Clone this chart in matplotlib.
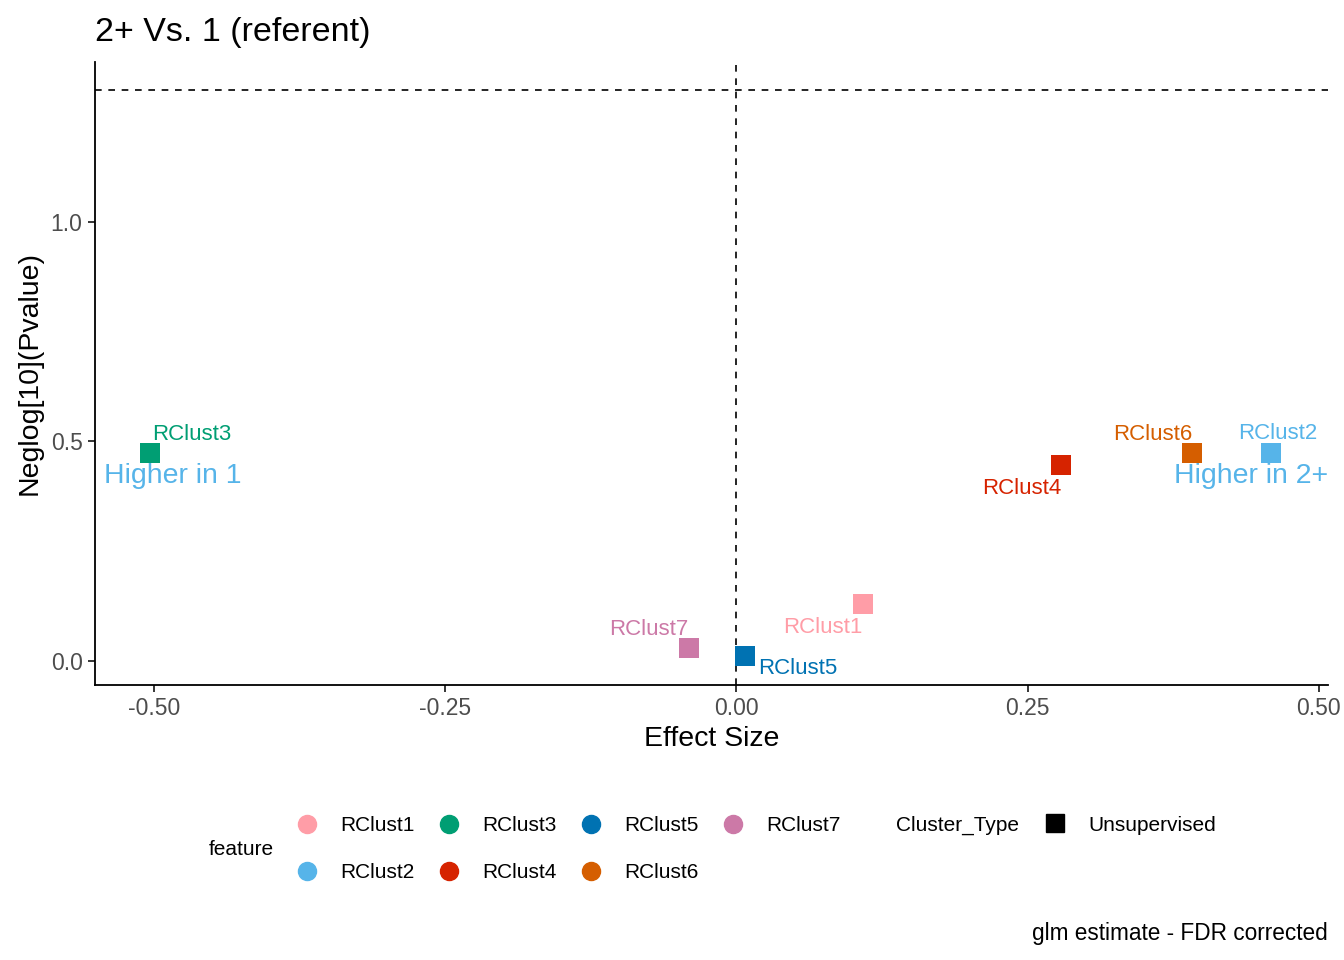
import matplotlib.pyplot as plt
from matplotlib.lines import Line2D

plt.rcParams['font.family'] = ['Liberation Sans', 'DejaVu Sans']

# data
features = ['RClust1', 'RClust2', 'RClust3', 'RClust4', 'RClust5', 'RClust6', 'RClust7']
effect = [0.109, 0.459, -0.503, 0.279, 0.007, 0.391, -0.041]
neglogp = [0.130, 0.474, 0.474, 0.447, 0.011, 0.474, 0.030]
colors = ['#FF9DA7', '#56B4E9', '#009E73', '#D62300', '#0072B2', '#D55E00', '#CC79A7']

# label offsets in points (dx, dy, ha)
offs = {
    'RClust1': (-1, -17, 'right'),
    'RClust2': (5, 14, 'center'),
    'RClust3': (1, 13, 'left'),
    'RClust4': (0, -17, 'right'),
    'RClust5': (10, -9, 'left'),
    'RClust6': (0, 13, 'right'),
    'RClust7': (0, 13, 'right'),
}

fig = plt.figure(figsize=(13.44, 9.6), dpi=100)
ax = fig.add_axes([0.0707, 0.2865, 0.9173, 0.6489])

for f, x, y, c in zip(features, effect, neglogp, colors):
    ax.scatter(x, y, marker='s', s=190, color=c, zorder=3, linewidths=0)
    dx, dy, ha = offs[f]
    ax.annotate(f, (x, y), xytext=(dx, dy), textcoords='offset points',
                ha=ha, va='center', color=c, fontsize=16)

ax.axhline(1.30103, color='black', ls=(0, (4, 4)), lw=1.2)
ax.axvline(0, color='black', ls=(0, (4, 4)), lw=1.2)

ax.text(-0.543, 0.421, 'Higher in 1', color='#56B4E9', fontsize=20.5, ha='left', va='center')
ax.text(0.5077, 0.421, 'Higher in 2+', color='#56B4E9', fontsize=20.5, ha='right', va='center')

ax.set_xlim(-0.5506, 0.5077)
ax.set_ylim(-0.0547, 1.364)
ax.set_xticks([-0.5, -0.25, 0, 0.25, 0.5])
ax.set_xticklabels(['-0.50', '-0.25', '0.00', '0.25', '0.50'])
ax.set_yticks([0, 0.5, 1.0])
ax.set_yticklabels(['0.0', '0.5', '1.0'])
ax.tick_params(labelsize=16.5, labelcolor='#4D4D4D', length=5, width=1.1, pad=4)
for s in ['top', 'right']:
    ax.spines[s].set_visible(False)
for s in ['left', 'bottom']:
    ax.spines[s].set_linewidth(1.3)

ax.set_xlabel('Effect Size', fontsize=20.5, labelpad=4)
ax.set_ylabel('Neglog[10](Pvalue)', fontsize=20.5, labelpad=6)
ax.set_title('2+ Vs. 1 (referent)', fontsize=24.5, loc='left', pad=15)

# legends
handles = [Line2D([], [], marker='o', ls='', color=c, markersize=13) for c in colors]
leg = fig.legend(handles, features, ncol=4, loc='center left',
                 bbox_to_anchor=(0.205, 0.1155), frameon=False, fontsize=15,
                 handletextpad=1.0, columnspacing=1.05, labelspacing=1.35,
                 handlelength=1.2)
fig.text(0.155, 0.1155, 'feature', fontsize=15, va='center')
fig.text(0.667, 0.1405, 'Cluster_Type', fontsize=15, va='center')
sq = [Line2D([], [], marker='s', ls='', color='black', markersize=13)]
fig.legend(sq, ['Unsupervised'], loc='center left', bbox_to_anchor=(0.7615, 0.1405),
           frameon=False, fontsize=15, handletextpad=1.0, handlelength=1.2)

fig.text(0.988, 0.028, 'glm estimate - FDR corrected', fontsize=16.3, ha='right', va='center')

plt.savefig('out.png', dpi=100)
